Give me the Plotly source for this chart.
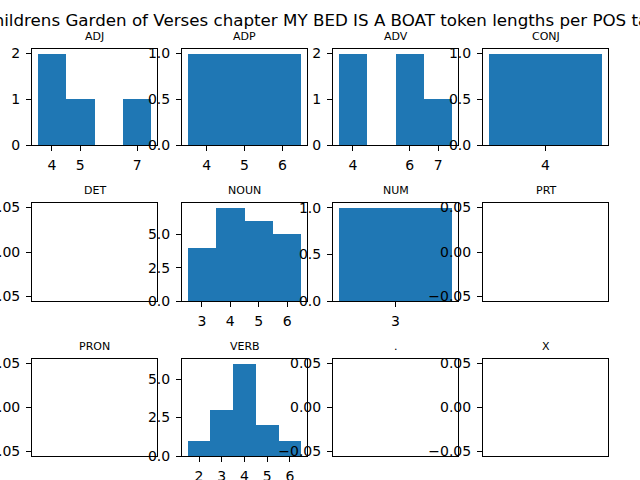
import plotly.graph_objects as go
from plotly.subplots import make_subplots

# token lengths and how many tokens per POS tag have that length
tags = ["ADJ", "ADP", "ADV", "CONJ", "DET", "NOUN", "NUM", "PRT", "PRON", "VERB", ".", "X"]
lengths = {
    "ADJ": [4, 5, 6, 7],
    "ADP": [4, 5, 6],
    "ADV": [4, 5, 6, 7],
    "CONJ": [4],
    "DET": [],
    "NOUN": [3, 4, 5, 6],
    "NUM": [3],
    "PRT": [],
    "PRON": [],
    "VERB": [2, 3, 4, 5, 6],
    ".": [],
    "X": [],
}
counts = {
    "ADJ": [2, 1, 0, 1],
    "ADP": [1, 1, 1],
    "ADV": [2, 0, 2, 1],
    "CONJ": [1],
    "DET": [],
    "NOUN": [4, 7, 6, 5],
    "NUM": [1],
    "PRT": [],
    "PRON": [],
    "VERB": [1, 3, 6, 2, 1],
    ".": [],
    "X": [],
}
y_ticks = {
    "ADJ": [0, 1, 2],
    "ADP": [0, 0.5, 1.0],
    "ADV": [0, 1, 2],
    "CONJ": [0, 0.5, 1.0],
    "NOUN": [0, 2.5, 5.0],
    "NUM": [0, 0.5, 1.0],
    "VERB": [0, 2.5, 5.0],
}
title = "Childrens Garden of Verses chapter MY BED IS A BOAT token lengths per POS tag"

BLUE = "#1f77b4"
FONT = "DejaVu Sans"
W, H = 640, 480
col_px = [(32, 157), (182, 307), (333, 458), (483, 608)]
row_px = [(49, 145), (203, 301), (359, 456)]

fig = make_subplots(rows=3, cols=4)

annotations = [dict(text=title, x=0.5, y=1 - 20 / H, xref="paper", yref="paper",
                    showarrow=False, font=dict(family=FONT, size=16.7, color="black"),
                    xanchor="center", yanchor="middle")]

for i, tag in enumerate(tags):
    r, c = divmod(i, 4)
    n = i + 1
    xa = fig.layout["xaxis" if n == 1 else f"xaxis{n}"]
    ya = fig.layout["yaxis" if n == 1 else f"yaxis{n}"]
    x0, x1 = col_px[c]
    y0, y1 = row_px[r]
    xa.domain = [x0 / W, x1 / W]
    ya.domain = [1 - y1 / H, 1 - y0 / H]

    common = dict(showline=True, mirror=True, linecolor="black", linewidth=1,
                  showgrid=False, zeroline=False, ticks="outside", ticklen=5,
                  tickcolor="black", tickwidth=1, automargin=False,
                  tickfont=dict(family=FONT, size=14, color="black"))
    xa.update(common)
    ya.update(common)
    ya.ticklabelstandoff = 3
    xa.ticklabelstandoff = 2

    L = lengths[tag]
    if L:
        fig.add_trace(go.Bar(x=L, y=counts[tag], width=1, marker_color=BLUE,
                             marker_line_width=0, showlegend=False), row=r + 1, col=c + 1)
        lo, hi = min(L) - 0.5, max(L) + 0.5
        pad = (hi - lo) * 0.05
        xa.range = [lo - pad, hi + pad]
        nz = [v for v, k in zip(L, counts[tag]) if k > 0]
        xa.tickvals = nz
        xa.ticktext = [str(v) for v in nz]
        ymax = max(counts[tag]) * 1.05
        ya.range = [0, ymax]
        yt = y_ticks[tag]
        ya.tickvals = yt
        if max(yt) == 2:
            ya.ticktext = [str(int(v)) for v in yt]
        else:
            ya.ticktext = [f"{v:.1f}" for v in yt]
    else:
        # empty histogram: keep the subplot drawn with an empty bar trace
        fig.add_trace(go.Bar(x=[], y=[], marker_color=BLUE, showlegend=False),
                      row=r + 1, col=c + 1)
        xa.range = [-0.055, 0.055]
        xa.showticklabels = False
        xa.ticks = ""
        ya.range = [-0.055, 0.055]
        ya.tickvals = [-0.05, 0, 0.05]
        ya.ticktext = ["\u22120.05", "0.00", "0.05"]

    annotations.append(dict(text=tag, x=(x0 + x1) / 2 / W, y=1 - y0 / H,
                            xref="paper", yref="paper", showarrow=False,
                            xanchor="center", yanchor="bottom", yshift=4,
                            font=dict(family=FONT, size=11, color="black")))

fig.update_layout(width=W, height=H, margin=dict(l=0, r=0, t=0, b=0),
                  paper_bgcolor="white", plot_bgcolor="white",
                  bargap=0, annotations=annotations)

fig.write_html("out.html", config={"displayModeBar": False},
               post_script="document.body.style.margin='0';")
